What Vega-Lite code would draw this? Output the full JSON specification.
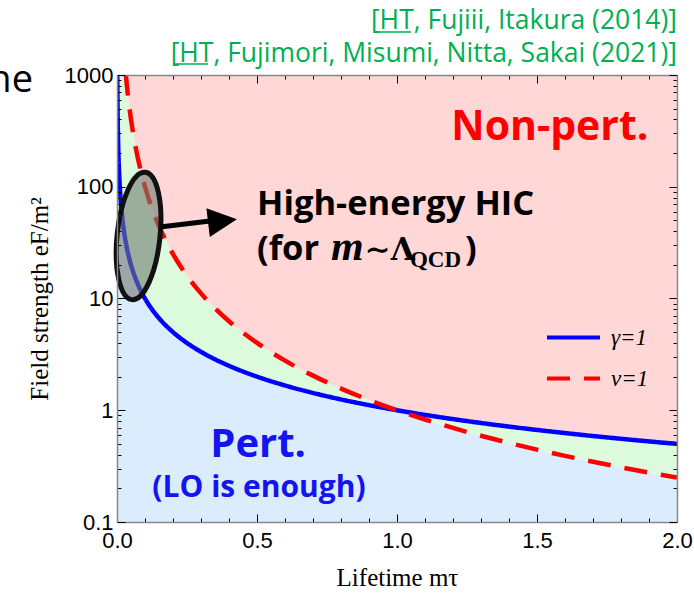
{
  "$schema": "https://vega.github.io/schema/vega-lite/v6.json",
  "width": 560,
  "height": 447,
  "autosize": "none",
  "padding": {"left": 117, "top": 75, "right": 17, "bottom": 72},
  "background": "white",
  "config": {"view": {"stroke": null}},
  "datasets": {
    "curves": [
      {"x": 0.001, "g": 1000, "n": 1000000, "lo": 1000, "hi": 1000000},
      {"x": 0.002, "g": 500, "n": 250000, "lo": 500, "hi": 250000},
      {"x": 0.004, "g": 250, "n": 62500, "lo": 250, "hi": 62500},
      {"x": 0.007, "g": 142.9, "n": 20408, "lo": 142.9, "hi": 20408},
      {"x": 0.01, "g": 100, "n": 10000, "lo": 100, "hi": 10000},
      {"x": 0.015, "g": 66.67, "n": 4444, "lo": 66.67, "hi": 4444},
      {"x": 0.02, "g": 50, "n": 2500, "lo": 50, "hi": 2500},
      {"x": 0.025, "g": 40, "n": 1600, "lo": 40, "hi": 1600},
      {"x": 0.03, "g": 33.33, "n": 1111, "lo": 33.33, "hi": 1111},
      {"x": 0.035, "g": 28.57, "n": 816.3, "lo": 28.57, "hi": 816.3},
      {"x": 0.04, "g": 25, "n": 625, "lo": 25, "hi": 625},
      {"x": 0.045, "g": 22.22, "n": 493.8, "lo": 22.22, "hi": 493.8},
      {"x": 0.05, "g": 20, "n": 400, "lo": 20, "hi": 400},
      {"x": 0.06, "g": 16.67, "n": 277.8, "lo": 16.67, "hi": 277.8},
      {"x": 0.07, "g": 14.29, "n": 204.1, "lo": 14.29, "hi": 204.1},
      {"x": 0.08, "g": 12.5, "n": 156.3, "lo": 12.5, "hi": 156.3},
      {"x": 0.09, "g": 11.11, "n": 123.5, "lo": 11.11, "hi": 123.5},
      {"x": 0.1, "g": 10, "n": 100, "lo": 10, "hi": 100},
      {"x": 0.12, "g": 8.333, "n": 69.44, "lo": 8.333, "hi": 69.44},
      {"x": 0.14, "g": 7.143, "n": 51.02, "lo": 7.143, "hi": 51.02},
      {"x": 0.16, "g": 6.25, "n": 39.06, "lo": 6.25, "hi": 39.06},
      {"x": 0.18, "g": 5.556, "n": 30.86, "lo": 5.556, "hi": 30.86},
      {"x": 0.2, "g": 5, "n": 25, "lo": 5, "hi": 25},
      {"x": 0.25, "g": 4, "n": 16, "lo": 4, "hi": 16},
      {"x": 0.3, "g": 3.333, "n": 11.11, "lo": 3.333, "hi": 11.11},
      {"x": 0.35, "g": 2.857, "n": 8.163, "lo": 2.857, "hi": 8.163},
      {"x": 0.4, "g": 2.5, "n": 6.25, "lo": 2.5, "hi": 6.25},
      {"x": 0.45, "g": 2.222, "n": 4.938, "lo": 2.222, "hi": 4.938},
      {"x": 0.5, "g": 2, "n": 4, "lo": 2, "hi": 4},
      {"x": 0.6, "g": 1.667, "n": 2.778, "lo": 1.667, "hi": 2.778},
      {"x": 0.7, "g": 1.429, "n": 2.041, "lo": 1.429, "hi": 2.041},
      {"x": 0.8, "g": 1.25, "n": 1.563, "lo": 1.25, "hi": 1.563},
      {"x": 0.9, "g": 1.111, "n": 1.235, "lo": 1.111, "hi": 1.235},
      {"x": 1.0, "g": 1, "n": 1, "lo": 1, "hi": 1},
      {"x": 1.1, "g": 0.9091, "n": 0.8264, "lo": 0.8264, "hi": 0.9091},
      {"x": 1.2, "g": 0.8333, "n": 0.6944, "lo": 0.6944, "hi": 0.8333},
      {"x": 1.3, "g": 0.7692, "n": 0.5917, "lo": 0.5917, "hi": 0.7692},
      {"x": 1.4, "g": 0.7143, "n": 0.5102, "lo": 0.5102, "hi": 0.7143},
      {"x": 1.5, "g": 0.6667, "n": 0.4444, "lo": 0.4444, "hi": 0.6667},
      {"x": 1.6, "g": 0.625, "n": 0.3906, "lo": 0.3906, "hi": 0.625},
      {"x": 1.7, "g": 0.5882, "n": 0.346, "lo": 0.346, "hi": 0.5882},
      {"x": 1.8, "g": 0.5556, "n": 0.3086, "lo": 0.3086, "hi": 0.5556},
      {"x": 1.9, "g": 0.5263, "n": 0.277, "lo": 0.277, "hi": 0.5263},
      {"x": 2.0, "g": 0.5, "n": 0.25, "lo": 0.25, "hi": 0.5}
    ]
  },
  "layer": [
    {
      "layer": [
        {
          "data": {"name": "curves"},
          "mark": {"type": "area", "color": "#dbecfd", "clip": true, "interpolate": "monotone"},
          "encoding": {
            "x": {"field": "x", "type": "quantitative", "scale": {"domain": [0, 2], "nice": false, "zero": false}, "axis": null},
            "y": {"field": "lo", "type": "quantitative", "scale": {"type": "log", "domain": [0.1, 1000], "nice": false, "zero": false}, "axis": null},
            "y2": {"datum": 0.1}
          }
        },
        {
          "data": {"name": "curves"},
          "mark": {"type": "area", "color": "#dcfadc", "clip": true, "interpolate": "monotone"},
          "encoding": {
            "x": {"field": "x", "type": "quantitative", "axis": null},
            "y": {"field": "lo", "type": "quantitative", "axis": null},
            "y2": {"field": "hi"}
          }
        },
        {
          "data": {"name": "curves"},
          "mark": {"type": "area", "color": "#ffd7d7", "clip": true, "interpolate": "monotone"},
          "encoding": {
            "x": {"field": "x", "type": "quantitative", "axis": null},
            "y": {"field": "hi", "type": "quantitative", "axis": null},
            "y2": {"datum": 1000}
          }
        },
        {
          "data": {"name": "curves"},
          "transform": [{"fold": ["g", "n"], "as": ["series", "val"]}],
          "mark": {"type": "line", "clip": true, "strokeWidth": 4.5, "interpolate": "monotone"},
          "encoding": {
            "x": {"field": "x", "type": "quantitative", "axis": null},
            "y": {"field": "val", "type": "quantitative", "axis": null},
            "color": {
              "field": "series", "type": "nominal",
              "scale": {"domain": ["g", "n"], "range": ["#0000ff", "#ff0000"]},
              "legend": {
                "orient": "none", "legendX": 428, "legendY": 234, "title": null,
                "symbolType": "stroke", "symbolSize": 2809, "symbolStrokeWidth": 4,
                "labelExpr": "datum.label == 'g' ? 'γ=1' : 'ν=1'",
                "labelFont": "Liberation Serif", "labelFontSize": 23, "labelFontStyle": "italic",
                "labelColor": "#000", "labelOffset": 9, "rowPadding": -13, "padding": 0
              }
            },
            "strokeDash": {
              "field": "series", "type": "nominal",
              "scale": {"domain": ["g", "n"], "range": [[1, 0], [23, 14]]},
              "legend": {
                "orient": "none", "legendX": 428, "legendY": 234, "title": null,
                "symbolType": "stroke", "symbolSize": 2809, "symbolStrokeWidth": 4,
                "labelExpr": "datum.label == 'g' ? 'γ=1' : 'ν=1'",
                "labelFont": "Liberation Serif", "labelFontSize": 23, "labelFontStyle": "italic",
                "labelColor": "#000", "labelOffset": 9, "rowPadding": -13, "padding": 0
              }
            }
          }
        },
        {
          "data": {"values": [{"x": 0.077, "y": 36.3}]},
          "mark": {
            "type": "point", "filled": true,
            "shape": "M 0.105 -0.995 A 0.335 1 6 1 1 -0.105 0.995 A 0.335 1 6 1 1 0.105 -0.995 Z",
            "size": 16384, "fill": "#707a70", "fillOpacity": 0.6,
            "stroke": "#111", "strokeWidth": 5, "opacity": 1
          },
          "encoding": {
            "x": {"field": "x", "type": "quantitative", "axis": null},
            "y": {"field": "y", "type": "quantitative", "axis": null}
          }
        },
        {
          "data": {"values": [{"x": 0.1536, "y": 43.6, "x2": 0.332, "y2": 49.4}]},
          "mark": {"type": "rule", "color": "#000", "strokeWidth": 5},
          "encoding": {
            "x": {"field": "x", "type": "quantitative", "axis": null},
            "y": {"field": "y", "type": "quantitative", "axis": null},
            "x2": {"field": "x2"},
            "y2": {"field": "y2"}
          }
        },
        {
          "data": {"values": [{"x": 0.3768, "y": 49.4}]},
          "mark": {
            "type": "point", "filled": true, "shape": "M -1 -1 L 1 0 L -1 1 Z",
            "size": 841, "angle": 353.3, "fill": "#000", "opacity": 1
          },
          "encoding": {
            "x": {"field": "x", "type": "quantitative", "axis": null},
            "y": {"field": "y", "type": "quantitative", "axis": null}
          }
        },
        {
          "data": {"values": [{"x": 1.546, "y": 261.8, "t": "Non-pert."}]},
          "mark": {"type": "text", "font": "Open Sans", "fontWeight": "bold", "fontSize": 41, "color": "#ff0000", "align": "center", "baseline": "alphabetic"},
          "encoding": {
            "x": {"field": "x", "type": "quantitative", "axis": null},
            "y": {"field": "y", "type": "quantitative", "axis": null},
            "text": {"field": "t"}
          }
        },
        {
          "data": {"values": [{"x": 0.5, "y": 55.9, "t": "High-energy HIC"}, {"x": 0.5, "y": 22.1, "t": "(for"}, {"x": 1.243, "y": 22.1, "t": ")"}]},
          "mark": {"type": "text", "font": "Open Sans", "fontWeight": "bold", "fontSize": 34.5, "color": "#000", "align": "left", "baseline": "alphabetic"},
          "encoding": {
            "x": {"field": "x", "type": "quantitative", "axis": null},
            "y": {"field": "y", "type": "quantitative", "axis": null},
            "text": {"field": "t"}
          }
        },
        {
          "data": {"values": [{"x": 0.764, "y": 22.1, "t": "m"}]},
          "mark": {"type": "text", "font": "Liberation Serif", "fontWeight": "bold", "fontStyle": "italic", "fontSize": 42, "color": "#000", "align": "left", "baseline": "alphabetic"},
          "encoding": {
            "x": {"field": "x", "type": "quantitative", "axis": null},
            "y": {"field": "y", "type": "quantitative", "axis": null},
            "text": {"field": "t"}
          }
        },
        {
          "data": {"values": [{"x": 0.885, "y": 22.1, "t": "∼Λ"}]},
          "mark": {"type": "text", "font": "DejaVu Serif", "fontWeight": "bold", "fontSize": 31, "color": "#000", "align": "left", "baseline": "alphabetic"},
          "encoding": {
            "x": {"field": "x", "type": "quantitative", "axis": null},
            "y": {"field": "y", "type": "quantitative", "axis": null},
            "text": {"field": "t"}
          }
        },
        {
          "data": {"values": [{"x": 1.046, "y": 19.1, "t": "QCD"}]},
          "mark": {"type": "text", "font": "Liberation Serif", "fontWeight": "bold", "fontSize": 23, "color": "#000", "align": "left", "baseline": "alphabetic"},
          "encoding": {
            "x": {"field": "x", "type": "quantitative", "axis": null},
            "y": {"field": "y", "type": "quantitative", "axis": null},
            "text": {"field": "t"}
          }
        },
        {
          "data": {"values": [{"x": 0.504, "y": 0.3817, "t": "Pert.", "s": 40}, {"x": 0.507, "y": 0.1674, "t": "(LO is enough)", "s": 30}]},
          "mark": {"type": "text", "font": "Open Sans", "fontWeight": "bold", "color": "#1414f0", "align": "center", "baseline": "alphabetic"},
          "encoding": {
            "x": {"field": "x", "type": "quantitative", "axis": null},
            "y": {"field": "y", "type": "quantitative", "axis": null},
            "text": {"field": "t"},
            "size": {"field": "s", "type": "quantitative", "scale": null, "legend": null}
          }
        },
        {
          "data": {"values": [{"x": 2.0, "y": 2579, "t": "[HT, Fujiii, Itakura (2014)]"}, {"x": 2.0, "y": 1307, "t": "[HT, Fujimori, Misumi, Nitta, Sakai (2021)]"}]},
          "mark": {"type": "text", "font": "Open Sans", "fontSize": 26.5, "color": "#00b050", "align": "right", "baseline": "alphabetic"},
          "encoding": {
            "x": {"field": "x", "type": "quantitative", "axis": null},
            "y": {"field": "y", "type": "quantitative", "axis": null},
            "text": {"field": "t"}
          }
        },
        {
          "data": {"values": [{"x": 0.925, "x2": 1.05, "y": 2427}, {"x": 0.2, "x2": 0.325, "y": 1254}]},
          "mark": {"type": "rule", "color": "#00b050", "strokeWidth": 1.5},
          "encoding": {
            "x": {"field": "x", "type": "quantitative", "axis": null},
            "x2": {"field": "x2"},
            "y": {"field": "y", "type": "quantitative", "axis": null}
          }
        },
        {
          "data": {"values": [{"x": -0.3, "y": 705, "t": "the"}]},
          "mark": {"type": "text", "font": "Open Sans", "fontSize": 38, "color": "#000", "align": "right", "baseline": "alphabetic"},
          "encoding": {
            "x": {"field": "x", "type": "quantitative", "axis": null},
            "y": {"field": "y", "type": "quantitative", "axis": null},
            "text": {"field": "t"}
          }
        }
      ]
    },
    {
      "data": {"values": [{"x": 0, "y": 1}]},
      "mark": {"type": "point", "opacity": 0},
      "encoding": {
        "x": {
          "field": "x", "type": "quantitative",
          "scale": {"domain": [0, 2], "nice": false, "zero": false},
          "axis": {
            "orient": "bottom",
            "values": [0, 0.1, 0.2, 0.3, 0.4, 0.5, 0.6, 0.7, 0.8, 0.9, 1, 1.1, 1.2, 1.3, 1.4, 1.5, 1.6, 1.7, 1.8, 1.9, 2],
            "format": ".1f",
            "labelExpr": "abs(datum.value*2 - round(datum.value*2)) < 0.001 ? datum.label : ''",
            "tickSize": {"condition": {"test": "abs(datum.value*2 - round(datum.value*2)) < 0.001", "value": -8}, "value": -4},
            "tickColor": "#000", "tickWidth": 1,
            "domainColor": "#888", "domainWidth": 1.5,
            "labelFont": "Liberation Sans", "labelFontSize": 22, "labelColor": "#000",
            "labelPadding": 16, "labelFlush": false, "labelOverlap": false,
            "grid": false, "zindex": 1,
            "title": "Lifetime mτ", "titleFont": "Liberation Serif", "titleFontSize": 25,
            "titleFontWeight": "normal", "titleColor": "#000", "titlePadding": 10
          }
        },
        "y": {
          "field": "y", "type": "quantitative",
          "scale": {"type": "log", "domain": [0.1, 1000], "nice": false, "zero": false},
          "axis": {
            "orient": "left",
            "values": [0.1, 0.2, 0.3, 0.4, 0.5, 0.6, 0.7, 0.8, 0.9, 1, 2, 3, 4, 5, 6, 7, 8, 9, 10, 20, 30, 40, 50, 60, 70, 80, 90, 100, 200, 300, 400, 500, 600, 700, 800, 900, 1000],
            "format": "~g",
            "labelExpr": "abs(log(datum.value)/LN10 - round(log(datum.value)/LN10)) < 0.001 ? datum.label : ''",
            "tickSize": {"condition": {"test": "abs(log(datum.value)/LN10 - round(log(datum.value)/LN10)) < 0.001", "value": -8}, "value": -4},
            "tickColor": "#000", "tickWidth": 1,
            "domainColor": "#888", "domainWidth": 1.5,
            "labelFont": "Liberation Sans", "labelFontSize": 22, "labelColor": "#000",
            "labelPadding": 12, "labelFlush": false, "labelOverlap": false,
            "grid": false, "zindex": 1,
            "title": "Field strength eF/m²", "titleFont": "Liberation Serif", "titleFontSize": 25,
            "titleFontWeight": "normal", "titleColor": "#000", "titlePadding": 12
          }
        }
      }
    },
    {
      "data": {"values": [{"x": 0, "y": 1}]},
      "mark": {"type": "point", "opacity": 0},
      "encoding": {
        "x": {
          "field": "x", "type": "quantitative",
          "scale": {"domain": [0, 2], "nice": false, "zero": false},
          "axis": {
            "orient": "top",
            "values": [0, 0.1, 0.2, 0.3, 0.4, 0.5, 0.6, 0.7, 0.8, 0.9, 1, 1.1, 1.2, 1.3, 1.4, 1.5, 1.6, 1.7, 1.8, 1.9, 2],
            "labels": false,
            "tickSize": {"condition": {"test": "abs(datum.value*2 - round(datum.value*2)) < 0.001", "value": -8}, "value": -4},
            "tickColor": "#000", "tickWidth": 1,
            "domainColor": "#888", "domainWidth": 1.5, "grid": false, "zindex": 1, "title": null
          }
        },
        "y": {
          "field": "y", "type": "quantitative",
          "scale": {"type": "log", "domain": [0.1, 1000], "nice": false, "zero": false},
          "axis": {
            "orient": "right",
            "values": [0.1, 0.2, 0.3, 0.4, 0.5, 0.6, 0.7, 0.8, 0.9, 1, 2, 3, 4, 5, 6, 7, 8, 9, 10, 20, 30, 40, 50, 60, 70, 80, 90, 100, 200, 300, 400, 500, 600, 700, 800, 900, 1000],
            "labels": false,
            "tickSize": {"condition": {"test": "abs(log(datum.value)/LN10 - round(log(datum.value)/LN10)) < 0.001", "value": -8}, "value": -4},
            "tickColor": "#000", "tickWidth": 1,
            "domainColor": "#888", "domainWidth": 1.5, "grid": false, "zindex": 1, "title": null
          }
        }
      }
    }
  ],
  "resolve": {"scale": {"x": "independent", "y": "independent"}}
}
